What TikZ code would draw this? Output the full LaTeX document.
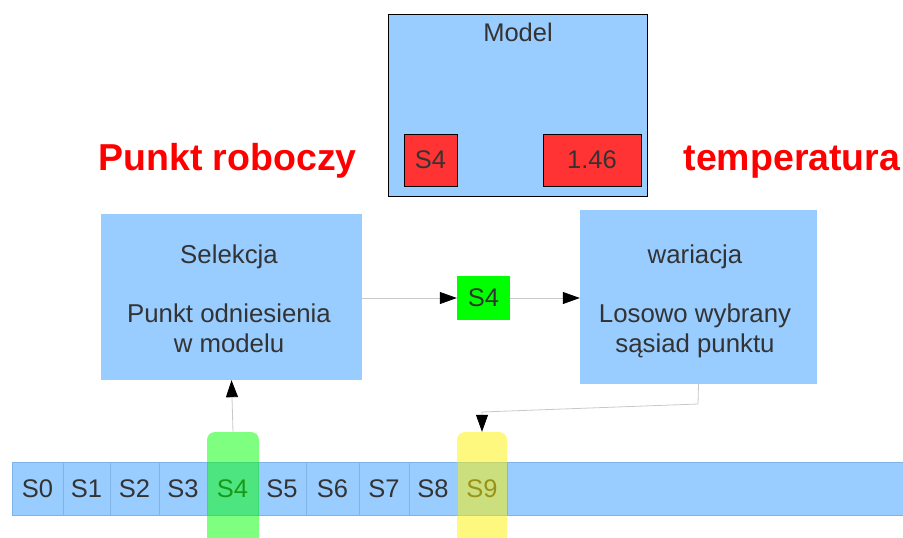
\documentclass[tikz,border=0pt]{standalone}
\usepackage{fontspec}
\setmainfont{Liberation Sans}
\usetikzlibrary{arrows.meta}
\definecolor{boxblue}{HTML}{99CCFF}
\definecolor{celldiv}{HTML}{80B4E6}
\definecolor{txtgray}{HTML}{333333}
\definecolor{cellred}{HTML}{FF3333}
\definecolor{wire}{HTML}{C8C8C8}
\tikzset{
  blue box/.style={draw=none, fill=boxblue, inner sep=0pt, text=txtgray,
    align=center, font=\fontsize{25.8}{29.5}\selectfont},
  red box/.style={draw=black, line width=0.8pt, fill=cellred, inner sep=0pt,
    text=txtgray, font=\fontsize{25.5}{30}\selectfont},
  cell/.style={draw=celldiv, line width=0.6pt, fill=boxblue, inner sep=0pt,
    minimum height=53pt, text=txtgray, font=\fontsize{25.5}{30}\selectfont},
  heading/.style={text=red, font=\fontsize{37.5}{40}\selectfont\bfseries, anchor=base},
  highlight/.style={draw=none, rounded corners=8pt, inner sep=0pt,
    fill opacity=0.5, minimum height=116pt},
  wire arrow/.style={draw=wire, line width=0.8pt,
    -{Triangle[length=17pt,width=12pt,color=black]}},
}
\begin{document}
\begin{tikzpicture}[x=1pt,y=-1pt]
\useasboundingbox (0,0) rectangle (903,538);
\clip (0,0) rectangle (903,538);

% model with the working point and its temperature
\node[blue box, draw=black, line width=0.8pt, minimum width=259pt, minimum height=182pt]
  (model) at (517.5,105) {};
\node[text=txtgray, font=\fontsize{25.5}{30}\selectfont, anchor=base] (modeltitle) at (518,41) {Model};
\node[red box, minimum width=53pt, minimum height=52pt] (ms4) at (430.5,160) {S4};
\node[red box, minimum width=98pt, minimum height=52pt] (mtemp) at (592,160) {1.46};

\node[heading] (hpunkt) at (227.5,170) {Punkt roboczy};
\node[heading] (htemp) at (792,170) {temperatura};

% processing steps
\node[blue box, minimum width=261pt, minimum height=166pt] (sel) at (231.5,297) {};
\node[blue box, anchor=north] (seltext) at (229,245)
  {Selekcja\\[29.5pt]Punkt odniesienia\\w modelu};
\node[blue box, minimum width=237pt, minimum height=174pt] (var) at (698.5,297) {};
\node[blue box, anchor=north] (vartext) at (695,245)
  {wariacja\\[29.5pt]Losowo wybrany\\sąsiad punktu};
\node[draw=none, fill=green, inner sep=0pt, minimum width=53pt, minimum height=44pt,
  text=txtgray, font=\fontsize{25.5}{30}\selectfont] (cur) at (483.5,298) {S4};

% strip of states
\node[cell, minimum width=396pt] (rest) at (705,488.5) {};
\node[cell, minimum width=51pt] (c0) at (37.5,488.5) {S0};
\node[cell, minimum width=47pt] (c1) at (86.5,488.5) {S1};
\node[cell, minimum width=49pt] (c2) at (134.5,488.5) {S2};
\node[cell, minimum width=48pt] (c3) at (183,488.5) {S3};
\node[cell, minimum width=51pt] (c4) at (232.5,488.5) {S4};
\node[cell, minimum width=48pt] (c5) at (282,488.5) {S5};
\node[cell, minimum width=53pt] (c6) at (332.5,488.5) {S6};
\node[cell, minimum width=50pt] (c7) at (384,488.5) {S7};
\node[cell, minimum width=48pt] (c8) at (433,488.5) {S8};
\node[cell, minimum width=50pt] (c9) at (482,488.5) {S9};

% highlighted states
\node[highlight, fill=green, minimum width=52pt] (hl4) at (233,490) {};
\node[highlight, fill=yellow, minimum width=50pt] (hl9) at (482,490) {};

% connectors
\draw[wire arrow] (hl4.north) -- (sel.south);
\draw[wire arrow] (sel.east |- cur.west) -- (cur.west);
\draw[wire arrow] (cur.east) -- (cur.east -| var.west);
\coordinate (bend1) at (698,404);
\coordinate (bend2) at (482,412);
\draw[wire arrow] (var.south) -- (bend1) -- (bend2) -- (hl9.north);
\end{tikzpicture}
\end{document}
